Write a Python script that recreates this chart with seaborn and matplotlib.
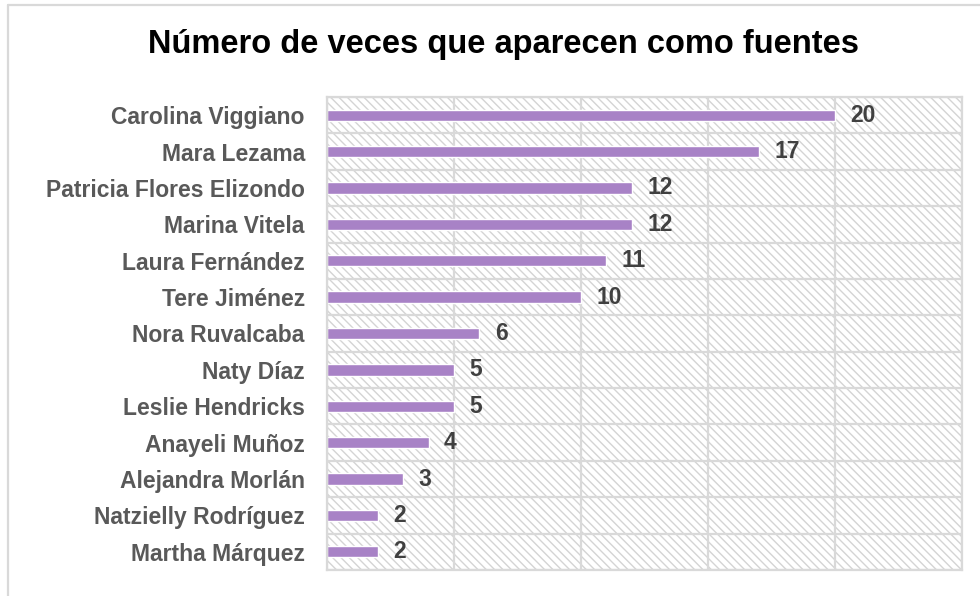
import pandas as pd
import matplotlib
matplotlib.use("Agg")
import matplotlib.pyplot as plt
from matplotlib.patches import Rectangle
from matplotlib.lines import Line2D
from matplotlib.ticker import MultipleLocator
import matplotlib.transforms as mtransforms
import seaborn as sns

# Data (top to bottom)
nombres = ["Carolina Viggiano", "Mara Lezama", "Patricia Flores Elizondo",
           "Marina Vitela", "Laura Fernández", "Tere Jiménez", "Nora Ruvalcaba",
           "Naty Díaz", "Leslie Hendricks", "Anayeli Muñoz", "Alejandra Morlán",
           "Natzielly Rodríguez", "Martha Márquez"]
veces = [20, 17, 12, 12, 11, 10, 6, 5, 5, 4, 3, 2, 2]
titulo = "Número de veces que aparecen como fuentes"

df = pd.DataFrame({"nombre": nombres, "veces": veces})

sns.set_style("white")
plt.rcParams['font.family'] = ['Liberation Sans', 'DejaVu Sans']
plt.rcParams['hatch.linewidth'] = 1.0

grid_col = "#D9D9D9"
fig = plt.figure(figsize=(9.8, 5.96), dpi=100)
ax = fig.add_axes([327/980, 1 - 570/596, (962-327)/980, (570-97)/596])

# hatched plot background
ax.add_patch(Rectangle((0, 0), 1, 1, transform=ax.transAxes, facecolor="white",
                       edgecolor="#D4D4D4", hatch="\\\\\\\\", lw=0, zorder=0.1))

sns.barplot(data=df, x="veces", y="nombre", orient="h", color="#A882C6",
            width=0.31, saturation=1, ax=ax, zorder=2)

ax.set_xlim(0, 25)
ax.set_ylim(12.5, -0.5)
ax.set_xlabel("")
ax.set_ylabel("")
ax.set_axisbelow(True)

# vertical grid every 5, horizontal lines between categories
ax.xaxis.set_major_locator(MultipleLocator(5))
ax.grid(axis="x", color=grid_col, lw=1.6, zorder=0.5)
ax.yaxis.set_minor_locator(MultipleLocator(1, offset=0.5))
ax.grid(axis="y", which="minor", color=grid_col, lw=1.6, zorder=0.5)
ax.tick_params(axis="x", length=0, labelbottom=False)
ax.tick_params(axis="y", which="major", length=0, pad=16, labelsize=16.5,
               labelcolor="#595959")
ax.tick_params(axis="y", which="minor", length=6, width=1.6, color=grid_col)
for lab in ax.get_yticklabels():
    lab.set_fontweight("bold")
for s in ax.spines.values():
    s.set_color(grid_col)
    s.set_linewidth(1.6)

etiquetas = ax.bar_label(ax.containers[0], padding=11, fontsize=16.5,
                         fontweight="bold", color="#404040")
# nudge value labels down a little
for t in etiquetas:
    t.set_transform(t.get_transform() + mtransforms.ScaledTranslation(0, -2/72, fig.dpi_scale_trans))

fig.text(503/980, 1 - 45/596, titulo, ha="center", va="center",
         fontsize=23.5, fontweight="bold", color="black")

# outer chart border (only top and left visible)
fig.add_artist(Line2D([8/980, 8/980], [0, 1 - 5/596], color=grid_col, lw=1.6))
fig.add_artist(Line2D([8/980, 1], [1 - 5/596, 1 - 5/596], color=grid_col, lw=1.6))

fig.savefig("out.png", dpi=100)
